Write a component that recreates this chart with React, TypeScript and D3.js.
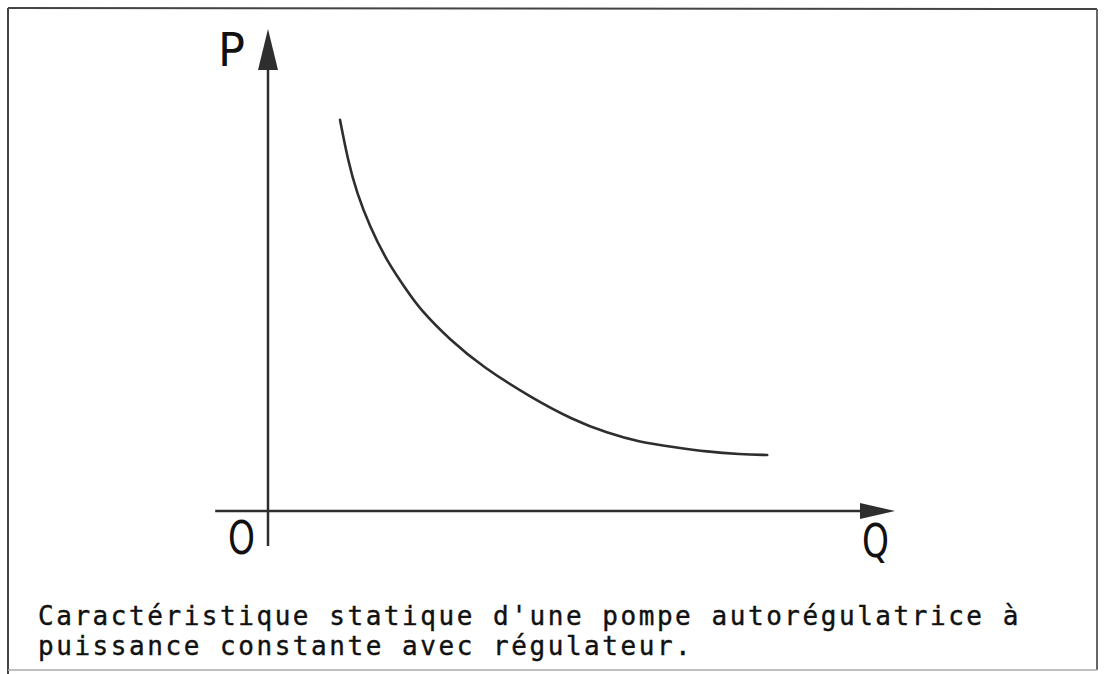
import * as d3 from 'd3';
import React, { useRef, useEffect } from 'react';

// points (arbitrary units, Q horizontal / P vertical)
const flow = [12.0, 13.3, 14.8, 17.0, 19.8, 23.2, 25.3, 30.3, 35.8, 43.7, 50.8, 56.5, 62.0, 67.5, 73.2, 78.7, 83.2];
const power = [97.8, 87.8, 79.5, 71.0, 62.5, 55.0, 50.5, 42.8, 36.0, 28.5, 22.8, 19.5, 17.2, 16.0, 14.8, 14.2, 14.0];

const axisLabels = ['P', 'Q', 'O'];
const captionLines = [
  "Caractéristique statique d'une pompe autorégulatrice à",
  'puissance constante avec régulateur.',
];

export default function App() {
  const ref = useRef<SVGSVGElement>(null);

  const width = 1107,
    height = 674;

  useEffect(() => {
    const svg = d3.select(ref.current);
    svg.selectAll('*').remove();

    const x = d3.scaleLinear().domain([0, 100]).range([268, 868]);
    const y = d3.scaleLinear().domain([0, 100]).range([511, 111]);

    const ink = '#2e2e2e';

    // frame
    svg.append('line').attr('x1', 8).attr('y1', 8).attr('x2', 1097).attr('y2', 9)
      .attr('stroke', '#444').attr('stroke-width', 2);
    svg.append('line').attr('x1', 8).attr('y1', 8).attr('x2', 8).attr('y2', 674)
      .attr('stroke', '#444').attr('stroke-width', 2);
    svg.append('line').attr('x1', 1097).attr('y1', 9).attr('x2', 1097).attr('y2', 670)
      .attr('stroke', '#666').attr('stroke-width', 2);
    svg.append('line').attr('x1', 8).attr('y1', 670).attr('x2', 1097).attr('y2', 670)
      .attr('stroke', '#aaa').attr('stroke-width', 1.5);

    // axes
    const yTop = y(120.5), yBot = y(-8.75);
    const xLeft = x(-8.8), xRight = x(104.5);

    svg.append('line')
      .attr('x1', x(0)).attr('x2', x(0))
      .attr('y1', yTop + 38).attr('y2', yBot)
      .attr('stroke', ink).attr('stroke-width', 2.5);
    svg.append('path')
      .attr('d', `M${x(0)},${yTop} L${x(0) - 10},${yTop + 41} L${x(0) + 10},${yTop + 41} Z`)
      .attr('fill', ink);

    svg.append('line')
      .attr('x1', xLeft).attr('x2', xRight - 32)
      .attr('y1', y(0)).attr('y2', y(0))
      .attr('stroke', ink).attr('stroke-width', 2.5);
    svg.append('path')
      .attr('d', `M${xRight},${y(0)} L${xRight - 35},${y(0) - 8} L${xRight - 35},${y(0) + 8} Z`)
      .attr('fill', ink);

    // curve P*Q ~ const
    const line = d3.line<number>()
      .x((d, i) => x(flow[i]))
      .y((d) => y(d))
      .curve(d3.curveBasis);

    svg.append('path')
      .datum(power)
      .attr('d', line)
      .attr('fill', 'none')
      .attr('stroke', ink)
      .attr('stroke-width', 2.6)
      .attr('stroke-linecap', 'round');

    // axis letters (narrow, like the stencil lettering)
    const lab = svg.append('g')
      .attr('font-family', 'DejaVu Sans, sans-serif')
      .attr('font-size', 47)
      .attr('fill', '#111');
    const letters = [
      { t: axisLabels[0], x: 218, y: 66 },
      { t: axisLabels[1], x: 862, y: 557 },
      { t: axisLabels[2], x: 228, y: 554 },
    ];
    lab.selectAll('text')
      .data(letters)
      .enter()
      .append('text')
      .attr('x', (d) => d.x)
      .attr('y', (d) => d.y)
      .attr('textLength', 27)
      .attr('lengthAdjust', 'spacingAndGlyphs')
      .text((d) => d.t);

    // caption
    svg.append('g')
      .attr('font-family', 'DejaVu Sans Mono, monospace')
      .attr('font-size', 26)
      .attr('fill', '#111')
      .attr('stroke', '#111')
      .attr('stroke-width', 0.4)
      .selectAll('text')
      .data(captionLines)
      .enter()
      .append('text')
      .attr('x', 38)
      .attr('y', (d, i) => 625 + i * 30)
      .attr('letter-spacing', 2.55)
      .text((d) => d);
  }, []);

  return (
    <svg
      ref={ref}
      width={width}
      height={height}
      style={{ position: 'absolute', left: 0, top: 0, background: '#fff' }}
    />
  );
}
